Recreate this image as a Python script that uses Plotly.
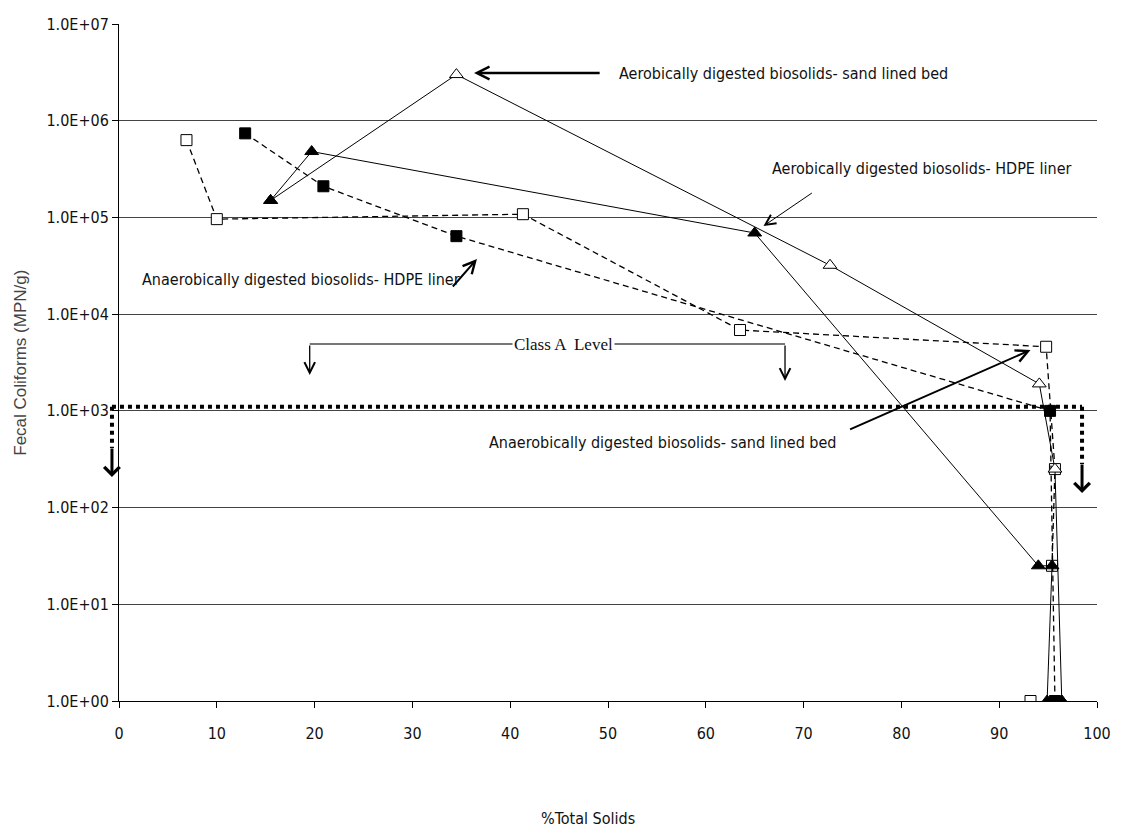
import math
import plotly.graph_objects as go

# Fecal coliform die-off versus total solids during drying
aer_sand_x = [15.5, 34.5, 72.7, 94.1, 95.7, 96.4]
aer_sand_y = [1.5e5, 3.0e6, 3.2e4, 1900, 250, 1]

aer_hdpe_x = [15.5, 19.7, 65.0, 94.0, 95.4, 94.9, 96.4]
aer_hdpe_y = [1.5e5, 4.8e5, 6.9e4, 25, 25, 1, 1]

ana_hdpe_x = [12.9, 20.9, 34.5, 95.2, 95.7]
ana_hdpe_y = [7.4e5, 2.1e5, 6.4e4, 1000, 1]

ana_sand_x = [6.9, 10.0, 41.3, 63.5, 94.8, 95.7, 95.4, None, 93.2]
ana_sand_y = [6.3e5, 9.6e4, 1.08e5, 6850, 4600, 250, 25, None, 1]

class_a_line = 1100  # dotted Class A reference level

y_tick_vals = [1, 10, 100, 1e3, 1e4, 1e5, 1e6, 1e7]
y_tick_text = ["1.0E+00", "1.0E+01", "1.0E+02", "1.0E+03",
               "1.0E+04", "1.0E+05", "1.0E+06", "1.0E+07"]
x_tick_vals = list(range(0, 101, 10))

NARROW = "Liberation Sans Narrow, Arial Narrow, DejaVu Sans Condensed, sans-serif"
SERIF = "Liberation Serif, Times New Roman, serif"

fig = go.Figure()

fig.add_trace(go.Scatter(
    x=ana_sand_x, y=ana_sand_y, mode="lines+markers", connectgaps=False,
    line=dict(color="black", width=1.3, dash="6px,4px"),
    marker=dict(symbol="square", size=11, color="white",
                line=dict(color="black", width=1)),
    name="Anaerobically digested biosolids- sand lined bed"))

fig.add_trace(go.Scatter(
    x=ana_hdpe_x, y=ana_hdpe_y, mode="lines+markers",
    line=dict(color="black", width=1.3, dash="6px,4px"),
    marker=dict(symbol="square", size=11, color="black",
                line=dict(color="black", width=1)),
    name="Anaerobically digested biosolids- HDPE liner"))

fig.add_trace(go.Scatter(
    x=aer_sand_x, y=aer_sand_y, mode="lines+markers",
    line=dict(color="black", width=1),
    marker=dict(symbol="triangle-up", size=12, color="white",
                line=dict(color="black", width=1)),
    name="Aerobically digested biosolids- sand lined bed"))

fig.add_trace(go.Scatter(
    x=aer_hdpe_x, y=aer_hdpe_y, mode="lines+markers",
    line=dict(color="black", width=1),
    marker=dict(symbol="triangle-up", size=12, color="black",
                line=dict(color="black", width=1)),
    name="Aerobically digested biosolids- HDPE liner"))

annotations = []


def label(text, x, ly, font=NARROW, size=16, anchor="left", bg=None):
    annotations.append(dict(
        x=x, y=ly, xref="x", yref="y", text=text, showarrow=False,
        xanchor=anchor, yanchor="middle", bgcolor=bg,
        font=dict(family=font, size=size, color="#111")))


def arrow(x_tip, ly_tip, x_tail, ly_tail, width=1.0, head=5, size=1.0):
    annotations.append(dict(
        x=x_tip, y=ly_tip, ax=x_tail, ay=ly_tail, xref="x", yref="y",
        axref="x", ayref="y", text="", showarrow=True, arrowhead=head,
        arrowsize=size, arrowwidth=width, arrowcolor="black"))


# series call-outs
label("Aerobically digested biosolids- sand lined bed", 50.9, 6.493)
arrow(36.3, 6.493, 49.3, 6.493, width=2.5, head=5, size=1.0)

label("Aerobically digested biosolids- HDPE liner", 66.6, 5.511)
arrow(65.9, 4.911, 71.0, 5.263, width=1.0, head=5, size=2.0)

label("Anaerobically digested biosolids- HDPE liner", 2.1, 4.363)
arrow(36.6, 4.570, 34.0, 4.27, width=2.0, head=5, size=1.2)

label("Anaerobically digested biosolids- sand lined bed", 37.6, 2.677)
arrow(93.2, 3.629, 74.6, 2.801, width=2.0, head=5, size=1.2)

# Class A level bracket
fig.add_shape(type="line", xref="x", yref="y", x0=19.5, x1=68.1,
              y0=10 ** 3.691, y1=10 ** 3.691,
              line=dict(color="#777", width=2))
label("Class A  Level", 45.5, 3.691, font=SERIF, size=17, anchor="center",
      bg="white")
arrow(19.5, 3.37, 19.5, 3.691, width=1.3, head=5, size=1.6)
arrow(68.1, 3.308, 68.1, 3.691, width=1.3, head=5, size=1.6)

# dotted Class A reference line with end arrows
left_px, right_px = -0.0072, 0.9847
fig.add_shape(type="line", xref="paper", yref="y", x0=left_px, x1=right_px,
              y0=class_a_line, y1=class_a_line,
              line=dict(color="black", width=4, dash="dot"))
for xp, tip in ((left_px, 2.315), (right_px, 2.15)):
    fig.add_shape(type="line", xref="paper", yref="y", x0=xp, x1=xp,
                  y0=class_a_line, y1=10 ** (tip + 0.3),
                  line=dict(color="black", width=4, dash="dot"))
    annotations.append(dict(
        x=xp, y=tip, xref="paper", yref="y", ax=0, ay=-30,
        text="", showarrow=True, arrowhead=4, arrowsize=1.0, arrowwidth=3,
        arrowcolor="black"))

# axis titles
annotations.append(dict(
    x=0.48, y=-0.173, xref="paper", yref="paper", text="%Total Solids",
    showarrow=False, xanchor="center", yanchor="middle",
    font=dict(family=NARROW, size=16, color="#111")))
annotations.append(dict(
    x=-0.101, y=0.50, xref="paper", yref="paper",
    text="Fecal Coliforms (MPN/g)", textangle=-90, showarrow=False,
    xanchor="center", yanchor="middle",
    font=dict(family="Liberation Sans, Arial, sans-serif", size=17,
              color="#444")))

fig.update_layout(
    width=1123, height=832,
    margin=dict(l=119, r=24, t=24, b=131),
    paper_bgcolor="white", plot_bgcolor="white",
    showlegend=False,
    annotations=annotations,
    xaxis=dict(
        range=[0, 100], tickvals=x_tick_vals, showgrid=False,
        zeroline=False, showline=True, linecolor="black", linewidth=1,
        ticks="outside", ticklen=6, tickcolor="black",
        ticklabelstandoff=12,
        tickfont=dict(family=NARROW, size=16, color="#111")),
    yaxis=dict(
        type="log", range=[0, 7], tickvals=y_tick_vals, ticktext=y_tick_text,
        showgrid=True, gridcolor="#444", gridwidth=1, zeroline=False,
        showline=True, linecolor="black", linewidth=1,
        ticks="outside", ticklen=6, tickcolor="black",
        tickfont=dict(family=NARROW, size=16, color="#111")),
)

fig.write_html("out.html")
